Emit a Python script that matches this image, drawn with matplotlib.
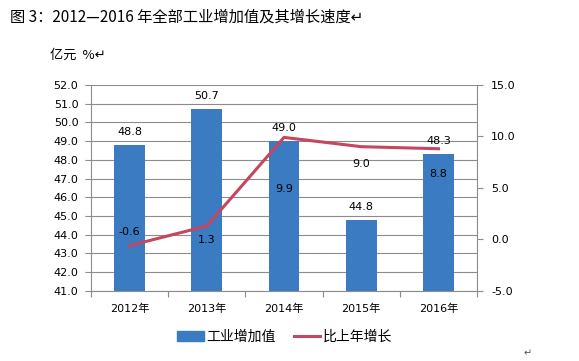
import matplotlib.pyplot as plt
import numpy as np

plt.rcParams['font.family'] = ['DejaVu Sans', 'Noto Sans CJK SC']

years = ["2012年", "2013年", "2014年", "2015年", "2016年"]
value_added = [48.8, 50.7, 49.0, 44.8, 48.3]
growth = [-0.6, 1.3, 9.9, 9.0, 8.8]
# vertical offset (pixels) of each growth label, as in the original
growth_label_dy = [14, -14, -52, -17, -25]

BAR_COLOR = "#3B7BC2"
LINE_COLOR = "#C4475F"
GRID = "#8C8C8C"
CJK = ['Noto Sans CJK SC', 'DejaVu Sans']


def main():
    fig = plt.figure(figsize=(5.79, 3.61), dpi=100)
    ax = fig.add_axes([0.157, 0.194, 0.667, 0.571])
    x = np.arange(len(years))

    ax.bar(x, value_added, width=0.4, color=BAR_COLOR, zorder=2)
    ax.set_ylim(41, 52)
    ax.set_yticks(np.arange(41, 52.1, 1.0))
    ax.set_yticklabels([f"{v:.1f}" for v in np.arange(41, 52.1, 1.0)], fontsize=8)
    ax.set_xlim(-0.5, 4.5)
    ax.set_xticks(np.arange(-0.5, 4.6, 1.0))
    ax.set_xticklabels([])
    ax.set_xticks(x, minor=True)
    ax.set_xticklabels(years, minor=True, fontsize=8)
    ax.tick_params(axis="x", which="minor", length=0, pad=9)
    ax.tick_params(axis="x", which="major", length=4, color=GRID)
    ax.tick_params(axis="y", length=4, color=GRID, pad=5)
    ax.grid(axis="y", color=GRID, linewidth=0.8, zorder=0)
    for s in ["top", "right"]:
        ax.spines[s].set_visible(False)
    for s in ["left", "bottom"]:
        ax.spines[s].set_color(GRID)

    for xi, v in zip(x, value_added):
        ax.annotate(f"{v:.1f}", (xi, v), xytext=(0, 13), textcoords="offset pixels",
                    ha="center", va="center", fontsize=8)

    ax2 = ax.twinx()
    ax2.plot(x, growth, color=LINE_COLOR, linewidth=2.2, zorder=3)
    ax2.set_ylim(-5, 15)
    ax2.set_yticks(np.arange(-5, 15.1, 5.0))
    ax2.set_yticklabels([f"{v:.1f}" for v in np.arange(-5, 15.1, 5.0)], fontsize=8)
    ax2.tick_params(axis="y", length=4, color=GRID, pad=6)
    for s in ["top", "left", "bottom"]:
        ax2.spines[s].set_visible(False)
    ax2.spines["right"].set_color(GRID)

    for xi, v, dy in zip(x, growth, growth_label_dy):
        ax2.annotate(f"{v:.1f}", (xi, v), xytext=(0, dy), textcoords="offset pixels",
                     ha="center", va="center", fontsize=8)

    fig.text(0.017, 0.953, "图 3：2012—2016 年全部工业增加值及其增长速度↵",
             fontsize=11, va="center", ha="left", family=CJK)
    fig.text(0.086, 0.848, "亿元  %↵", fontsize=9.5, va="center", ha="left", family=CJK)
    fig.text(0.905, 0.022, "↵", fontsize=7, va="center", color="#555555")

    h1 = plt.Rectangle((0, 0), 1, 1, color=BAR_COLOR)
    h2 = plt.Line2D([], [], color=LINE_COLOR, linewidth=2.2)
    fig.legend([h1, h2], ["工业增加值", "比上年增长"], loc="center",
               bbox_to_anchor=(0.492, 0.067), ncol=2, frameon=False,
               prop={"family": CJK, "size": 10},
               handlelength=1.9, handleheight=0.7, columnspacing=1.3, handletextpad=0.2)

    fig.savefig("out.png", dpi=100, facecolor="white")


if __name__ == "__main__":
    main()
